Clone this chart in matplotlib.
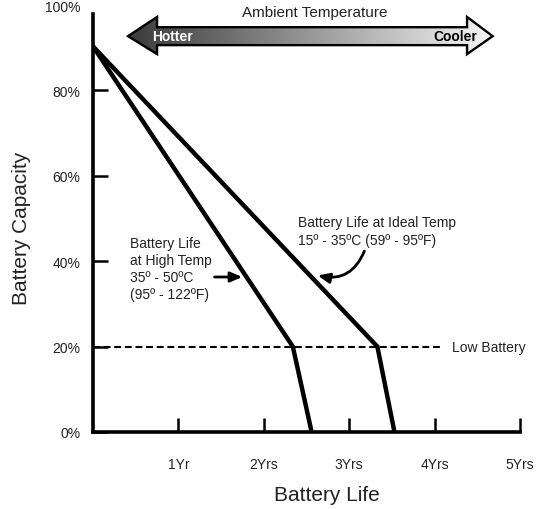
import matplotlib
matplotlib.use("Agg")
import matplotlib.pyplot as plt
import numpy as np
from matplotlib.patches import Polygon
from matplotlib.colors import LinearSegmentedColormap

plt.rcParams['font.family'] = ['Liberation Sans', 'DejaVu Sans']

# data
years_high = [0, 2.34, 2.56]
cap_high = [90.3, 20, 0]
years_ideal = [0, 3.33, 3.53]
cap_ideal = [90.3, 20, 0]
low_battery = 20
low_battery_end = 4.07
xticks = [1, 2, 3, 4, 5]
xticklabels = ["1Yr", "2Yrs", "3Yrs", "4Yrs", "5Yrs"]
yticks = [0, 20, 40, 60, 80, 100]
yticklabels = ["0%", "20%", "40%", "60%", "80%", "100%"]

fig = plt.figure(figsize=(5.39, 5.10), dpi=100)
ax = fig.add_axes([93/539, 77/510, 427/539, 427/510])

ax.plot(years_high, cap_high, color="black", lw=3.2, solid_joinstyle="miter")
ax.plot(years_ideal, cap_ideal, color="black", lw=3.2, solid_joinstyle="miter")
ax.plot([0, low_battery_end], [low_battery, low_battery], color="black",
        lw=1.5, dashes=(3.3, 1.8))
ax.text(4.2, low_battery, "Low Battery", fontsize=10, va="center", color="#222")

# ambient temperature arrow with gradient
xl, xbl, xbr, xr = 0.41, 0.75, 4.38, 4.68
yb0, yb1, yh0, yh1 = 90.6, 94.8, 88.5, 97.2
yc = (yb0 + yb1) / 2
pts = [(xl, yc), (xbl, yh1), (xbl, yb1), (xbr, yb1), (xbr, yh1), (xr, yc),
       (xbr, yh0), (xbr, yb0), (xbl, yb0), (xbl, yh0)]
poly = Polygon(pts, closed=True, facecolor="none", edgecolor="black", lw=1.7,
               zorder=4, joinstyle="miter")
ax.add_patch(poly)
cmap = LinearSegmentedColormap.from_list("temp", ["#3a3a3a", "#f6f6f6"])
grad = np.linspace(0, 1, 256).reshape(1, -1)
im = ax.imshow(grad, cmap=cmap, extent=[xl, xr, yh0, yh1], aspect="auto",
               zorder=3, interpolation="bilinear")
im.set_clip_path(poly)
ax.text(0.93, yc, "Hotter", color="white", fontsize=10, fontweight="bold",
        ha="center", va="center", zorder=5)
ax.text(4.5, yc, "Cooler", color="black", fontsize=10, fontweight="bold",
        ha="right", va="center", zorder=5)
ax.text(2.6, 98.3, "Ambient Temperature", fontsize=11, ha="center",
        va="center", color="#222")

# annotations
ax.text(0.43, 38.3, "Battery Life\nat High Temp\n35º - 50ºC\n(95º - 122ºF)",
        fontsize=10, va="center", ha="left", color="#222", linespacing=1.27)
ax.annotate("", xy=(1.78, 36.3), xytext=(1.39, 36.3),
            arrowprops=dict(arrowstyle="-|>,head_length=0.7,head_width=0.3",
                            color="black", lw=2))
ax.text(2.4, 47.1, "Battery Life at Ideal Temp\n15º - 35ºC (59º - 95ºF)",
        fontsize=10, va="center", ha="left", color="#222", linespacing=1.3)
ax.annotate("", xy=(2.6, 36.8), xytext=(3.19, 43.0),
            arrowprops=dict(arrowstyle="-|>,head_length=0.7,head_width=0.3",
                            color="black", lw=2,
                            connectionstyle="arc3,rad=-0.45"))

ax.set_xlim(0, 5)
ax.set_ylim(0, 100)
for s in ["top", "right"]:
    ax.spines[s].set_visible(False)
ax.spines["left"].set_linewidth(2.6)
ax.spines["bottom"].set_linewidth(2.6)
ax.spines["left"].set_bounds(0, 97.8)
ax.set_xticks(xticks)
ax.set_xticklabels(xticklabels)
ax.set_yticks(yticks)
ax.set_yticklabels(yticklabels)
ax.tick_params(axis="x", direction="in", length=10, width=1.8, pad=18,
               labelsize=10, labelcolor="#222")
ax.tick_params(axis="y", direction="in", length=11, width=1.8, pad=9,
               labelsize=10, labelcolor="#222")
ax.yaxis.get_major_ticks()[-1].tick1line.set_visible(False)

ax.set_xlabel("Battery Life", fontsize=15, color="#222")
ax.xaxis.set_label_coords(0.548, -0.125)
ax.set_ylabel("Battery Capacity", fontsize=15, color="#222")
ax.yaxis.set_label_coords(-0.146, 0.48)

fig.savefig("out.png", dpi=100)
